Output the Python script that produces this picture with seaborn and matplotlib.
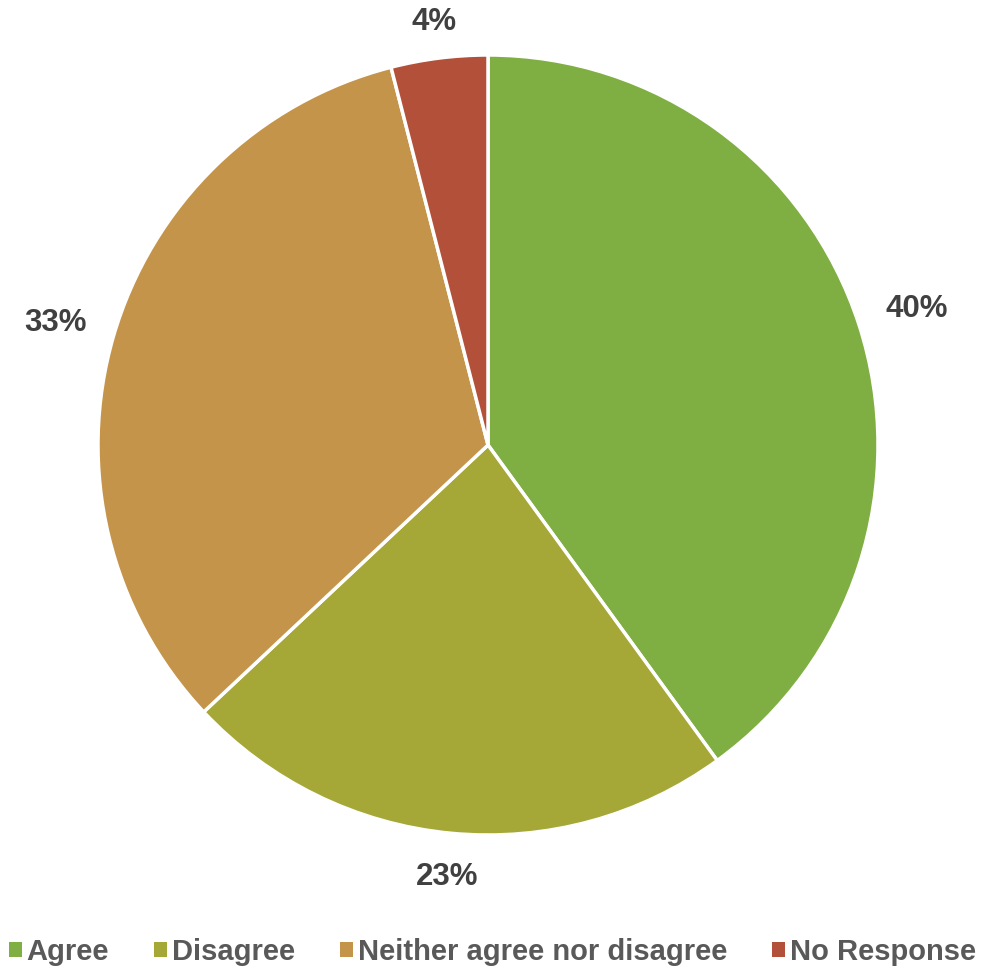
import matplotlib
matplotlib.use("Agg")
import numpy as np
import matplotlib.pyplot as plt
from matplotlib import font_manager
from matplotlib.patches import Patch
import seaborn as sns

categories = ["Agree", "Disagree", "Neither agree nor disagree", "No Response"]
shares = [40, 23, 33, 4]
colors = ["#7fae42", "#a5a736", "#c4944a", "#b3503a"]

sns.set_theme(style="white")
names = {f.name for f in font_manager.fontManager.ttflist}
main_font = "Liberation Sans" if "Liberation Sans" in names else "DejaVu Sans"
plt.rcParams["font.family"] = [main_font, "DejaVu Sans"]

W, H = 985, 968
fig = plt.figure(figsize=(W / 100, H / 100), dpi=100)
ax = fig.add_axes([0, 0, 1, 1])

# pie centre and radius in pixels
cx, cy, R = 488, 445, 390

wedges, texts, autotexts = ax.pie(
    shares, colors=colors, startangle=90, counterclock=False,
    autopct="%1.0f%%", pctdistance=1.1,
    wedgeprops=dict(edgecolor="white", linewidth=2.5),
    textprops=dict(fontsize=22.5, fontweight="bold", color="#404040"),
)

ax.set_xlim(-cx / R, (W - cx) / R)
ax.set_ylim(-(H - cy) / R, cy / R)
ax.set_aspect("auto")
ax.axis("off")

# put labels just outside the rim, like "outside end" labels
fig.canvas.draw()
renderer = fig.canvas.get_renderer()
gap = 28
for w, t in zip(wedges, autotexts):
    ang = np.deg2rad((w.theta1 + w.theta2) / 2)
    bb = t.get_window_extent(renderer)
    ink_h = bb.height * 0.62
    ext = abs(np.cos(ang)) * bb.width / 2 + abs(np.sin(ang)) * ink_h / 2
    r = (R + gap + ext) / R
    t.set_position((r * np.cos(ang), r * np.sin(ang)))
    t.set_ha("center")
    t.set_va("center_baseline")

handles = [Patch(facecolor=c, edgecolor="none") for c in colors]
leg = fig.legend(
    handles, categories, loc="lower center", bbox_to_anchor=(0.5, 0.002),
    ncol=4, frameon=False, handlelength=0.45, handleheight=0.42,
    handletextpad=0.15, columnspacing=1.55, borderpad=0, borderaxespad=0,
    prop=dict(size=21, weight="bold"),
)
for t in leg.get_texts():
    t.set_color("#595959")

fig.savefig("out.png", dpi=100)
